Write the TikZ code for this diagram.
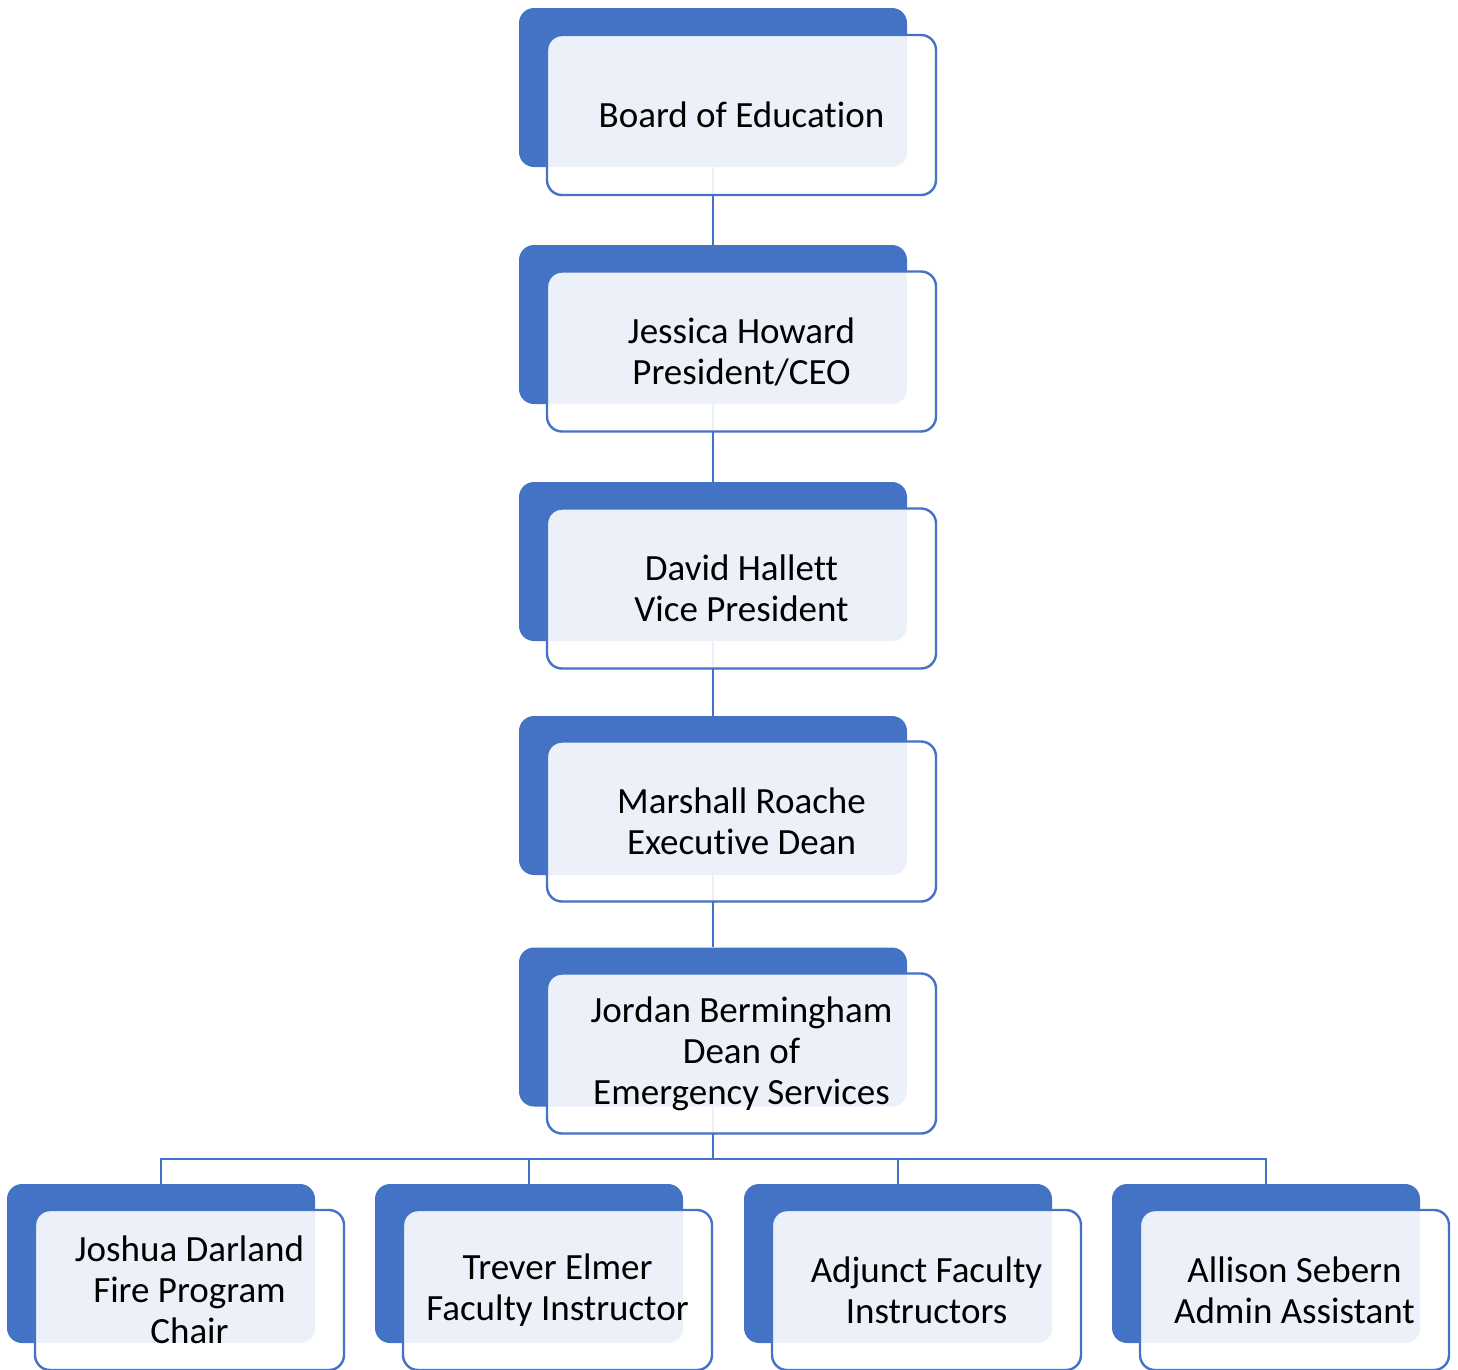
\documentclass[tikz,border=0pt]{standalone}
\usepackage{fontspec}
\setmainfont[RawFeature={-liga;-clig}]{Carlito}
\usetikzlibrary{backgrounds}
\definecolor{sablue}{HTML}{4472C4}
\tikzset{
  backbox/.style={fill=sablue, rounded corners=15pt, minimum width=388pt, minimum height=159pt, inner sep=0pt},
  frontbox/.style={draw=sablue, line width=2.4pt, fill=white, fill opacity=0.9, text opacity=1, rounded corners=15pt, minimum width=389pt, minimum height=160pt, inner sep=0pt, align=center, font=\fontsize{37}{41}\selectfont},
  smallback/.style={backbox, minimum width=308pt},
  smallfront/.style={frontbox, minimum width=309pt},
  conn/.style={draw=sablue, line width=2.6pt}
}
\begin{document}
\begin{tikzpicture}[x=1pt,y=-1pt]
\useasboundingbox (0,0) rectangle (1458,1369);
% top chain
\node[backbox] (b1) at (713,87.5) {};
\node[frontbox] (f1) at (741.5,115) {Board of Education};
\node[backbox] (b2) at (713,324.5) {};
\node[frontbox] (f2) at (741.5,351.5) {Jessica Howard\\President/CEO};
\node[backbox] (b3) at (713,561.5) {};
\node[frontbox] (f3) at (741.5,588.5) {David Hallett\\Vice President};
\node[backbox] (b4) at (713,795.5) {};
\node[frontbox] (f4) at (741.5,821.5) {Marshall Roache\\Executive Dean};
\node[backbox] (b5) at (713,1027) {};
\node[frontbox] (f5) at (741.5,1053.5) {Jordan Bermingham\\Dean of\\Emergency Services};
% bottom row
\node[smallback] (c1) at (161,1263.5) {};
\node[smallfront] (d1) at (189.5,1290) {Joshua Darland\\Fire Program\\Chair};
\node[smallback] (c2) at (529,1263.5) {};
\node[smallfront] (d2) at (557.5,1290) {Trever Elmer\\Faculty Instructor};
\node[smallback] (c3) at (898,1263.5) {};
\node[smallfront] (d3) at (926.5,1290) {Adjunct Faculty\\Instructors};
\node[smallback] (c4) at (1266,1263.5) {};
\node[smallfront] (d4) at (1294.5,1290) {Allison Sebern\\Admin Assistant};
\begin{pgfonlayer}{background}
\draw[conn] (b1.south) -- (b2.north);
\draw[conn] (b2.south) -- (b3.north);
\draw[conn] (b3.south) -- (b4.north);
\draw[conn] (b4.south) -- (b5.north);
\coordinate (bus) at (713,1159);
\draw[conn] (b5.south) -- (bus);
\draw[conn] (bus) -| (c1.north);
\draw[conn] (bus) -| (c2.north);
\draw[conn] (bus) -| (c3.north);
\draw[conn] (bus) -| (c4.north);
\end{pgfonlayer}
\end{tikzpicture}
\end{document}
